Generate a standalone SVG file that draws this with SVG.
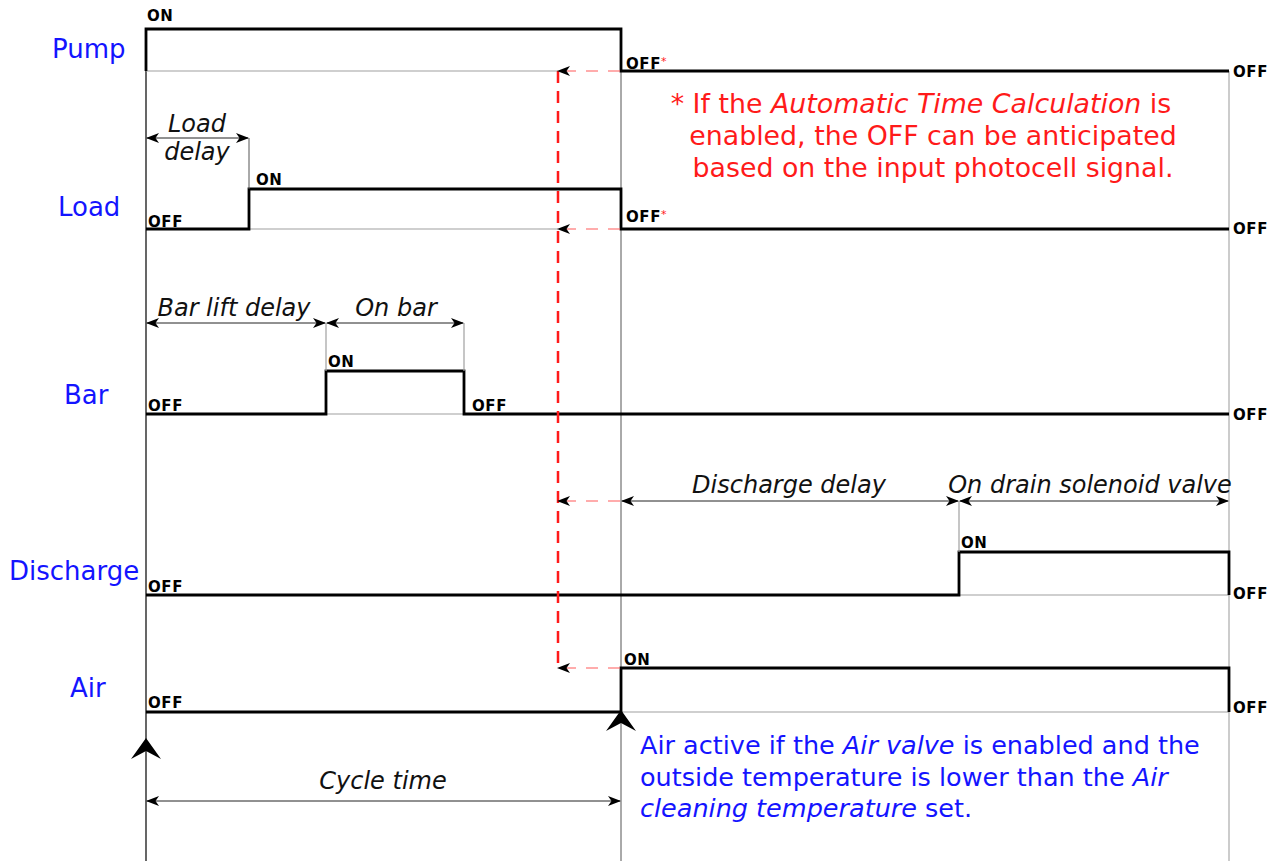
<svg xmlns="http://www.w3.org/2000/svg" width="1277" height="861" viewBox="0 0 1277 861">
<style>
.sig{fill:none;stroke:#000;stroke-width:2.8;stroke-linejoin:miter}
.base{fill:none;stroke:#a0a0a0;stroke-width:1.2}
.thin{fill:none;stroke:#555;stroke-width:1}
.dim{fill:none;stroke:#222;stroke-width:1;marker-start:url(#ah);marker-end:url(#ah)}
.rdash{fill:none;stroke:#ff5a5a;stroke-width:1.2;stroke-dasharray:12 10;marker-end:url(#ah)}
.lbl{font-family:"DejaVu Sans",sans-serif;font-size:26px;fill:#1414ff}
.st{font-family:"DejaVu Sans",sans-serif;font-size:15px;font-weight:bold;fill:#000;letter-spacing:0.6px}
.it{font-family:"DejaVu Sans",sans-serif;font-size:24px;font-style:italic;fill:#111;text-anchor:middle}
.red{font-family:"DejaVu Sans",sans-serif;font-size:26.8px;fill:#ff1a1a;text-anchor:middle}
.blue{font-family:"DejaVu Sans",sans-serif;font-size:25.5px;fill:#1414ff}
.ast{font-family:"DejaVu Sans",sans-serif;font-size:11px;fill:#ff1a1a}
</style>
<defs>
<marker id="ah" viewBox="0 0 13 10" refX="12" refY="5" markerWidth="13" markerHeight="10" markerUnits="userSpaceOnUse" orient="auto-start-reverse">
<path d="M0,0 L13,5 L0,10 L3.5,5 Z" fill="#000"/>
</marker>
</defs>
<g id="grid">
<line x1="146" y1="29" x2="146" y2="861" stroke="#000" stroke-width="1.2"/>
<line x1="621" y1="29" x2="621" y2="861" stroke="#555" stroke-width="1"/>
<line x1="1229" y1="71" x2="1229" y2="861" stroke="#aaa" stroke-width="1.2"/>
</g>
<g id="pump">
<text class="lbl" x="52" y="58">Pump</text>
<line class="base" x1="146" y1="71" x2="558" y2="71"/>
<path class="sig" d="M146,71 V29 H621 V71 H1229"/>
<text class="st" x="147" y="21">ON</text>
<text class="st" x="626" y="69">OFF</text>
<text class="ast" x="661" y="65">*</text>
<text class="st" x="1233" y="77">OFF</text>
</g>
<g id="load">
<text class="lbl" x="58" y="216">Load</text>
<line class="base" x1="249" y1="229" x2="558" y2="229"/>
<path class="sig" d="M146,229 H249 V189 H621 V229 H1229"/>
<text class="st" x="148" y="227">OFF</text>
<text class="st" x="256" y="185">ON</text>
<text class="st" x="626" y="222">OFF</text>
<text class="ast" x="661" y="218">*</text>
<text class="st" x="1233" y="234">OFF</text>
<line class="thin" x1="249" y1="138" x2="249" y2="189" stroke="#000"/>
<line class="dim" x1="147" y1="138" x2="248" y2="138"/>
<text class="it" x="197" y="132">Load</text>
<text class="it" x="197" y="160">delay</text>
</g>
<g id="bar">
<text class="lbl" x="64" y="404">Bar</text>
<line class="base" x1="326" y1="414" x2="464" y2="414"/>
<path class="sig" d="M146,414 H326 V371 H464 V414 H1229"/>
<text class="st" x="148" y="411">OFF</text>
<text class="st" x="328" y="367">ON</text>
<text class="st" x="472" y="411">OFF</text>
<text class="st" x="1233" y="420">OFF</text>
<line class="base" x1="326" y1="323" x2="326" y2="371"/>
<line class="base" x1="464" y1="323" x2="464" y2="371"/>
<line class="dim" x1="147" y1="323" x2="325" y2="323"/>
<line class="dim" x1="327" y1="323" x2="463" y2="323"/>
<text class="it" x="234" y="316">Bar lift delay</text>
<text class="it" x="396" y="316">On bar</text>
</g>
<g id="discharge">
<text class="lbl" x="9" y="580">Discharge</text>
<line class="base" x1="959" y1="595" x2="1229" y2="595"/>
<path class="sig" d="M146,595 H959 V552 H1229 V595"/>
<text class="st" x="148" y="592">OFF</text>
<text class="st" x="961" y="548">ON</text>
<text class="st" x="1233" y="599">OFF</text>
<line class="base" x1="959" y1="501" x2="959" y2="552"/>
<line class="dim" x1="622" y1="501" x2="958" y2="501"/>
<line class="dim" x1="960" y1="501" x2="1228" y2="501"/>
<text class="it" x="789" y="493">Discharge delay</text>
<text class="it" x="1090" y="493">On drain solenoid valve</text>
</g>
<g id="air">
<text class="lbl" x="70" y="697">Air</text>
<line class="base" x1="621" y1="712" x2="1229" y2="712"/>
<path class="sig" d="M146,712 H621 V668 H1229 V712"/>
<text class="st" x="148" y="708">OFF</text>
<text class="st" x="624" y="665">ON</text>
<text class="st" x="1233" y="713">OFF</text>
</g>
<g id="connectors">
<line x1="558" y1="71" x2="558" y2="668" stroke="#ff1a1a" stroke-width="2.5" stroke-dasharray="12 8"/>
<line class="rdash" x1="620" y1="71" x2="558" y2="71"/>
<line class="rdash" x1="620" y1="229" x2="558" y2="229"/>
<line class="rdash" x1="620" y1="501" x2="558" y2="501"/>
<line class="rdash" x1="620" y1="668" x2="558" y2="668"/>
<path d="M146,738 L161,759 L146,751 L131,759 Z" fill="#000"/>
<path d="M621,710 L636,731 L621,723 L606,731 Z" fill="#000"/>
<line class="dim" x1="147" y1="801" x2="620" y2="801"/>
<text class="it" x="383" y="789">Cycle time</text>
</g>
<g id="notes">
<text class="red" x="921" y="113">* If the <tspan font-style="italic">Automatic Time Calculation</tspan> is</text>
<text class="red" x="933" y="145">enabled, the OFF can be anticipated</text>
<text class="red" x="933" y="177">based on the input photocell signal.</text>
<text class="blue" x="640" y="754">Air active if the <tspan font-style="italic">Air valve</tspan> is enabled and the</text>
<text class="blue" x="640" y="786">outside temperature is lower than the <tspan font-style="italic">Air</tspan></text>
<text class="blue" x="640" y="817"><tspan font-style="italic">cleaning temperature</tspan> set.</text>
</g>
</svg>
